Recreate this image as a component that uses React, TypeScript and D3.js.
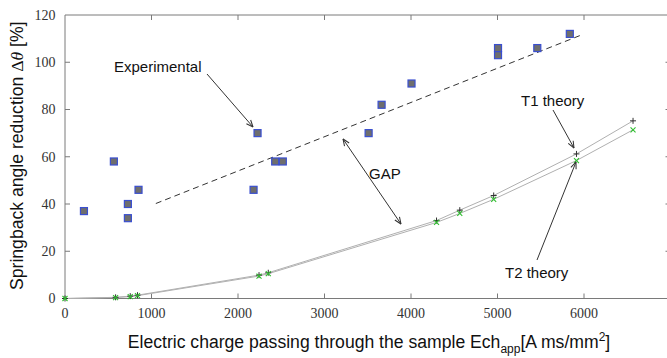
import React from "react";
import * as d3 from "d3";

const W = 667;
const H = 358;

// Experimental data (squares)
const expX = [219, 565, 727, 727, 850, 2180, 2226, 2430, 2518, 3510, 3660, 4006, 5006, 5006, 5460, 5836];
const expY = [37, 58, 40, 34, 46, 46, 70, 58, 58, 70, 82, 91, 106, 103, 106, 112];

// Linear trend of experimental data (dashed)
const fitX = [1050, 5960];
const fitY = [40.2, 111.4];

// Theory curves
const thX = [0, 585, 754, 838, 2243, 2350, 4295, 4564, 4956, 5913, 6567];
const t1Y = [0, 0.5, 1.0, 1.4, 9.9, 10.9, 33.0, 37.4, 43.6, 61.2, 75.2];
const t2Y = [0, 0.4, 0.8, 1.2, 9.5, 10.5, 32.2, 36.0, 42.0, 58.4, 71.4];

const xTicks = [0, 1000, 2000, 3000, 4000, 5000, 6000];
const yTicks = [0, 20, 40, 60, 80, 100, 120];

export default function App() {
  const x = d3.scaleLinear().domain([0, 7000]).range([65, 670.5]);
  const y = d3.scaleLinear().domain([0, 120]).range([298.5, 15]);
  const x0 = x(0), x1 = x(7000), y0 = y(0), y1 = y(120);

  const line = d3.line<[number, number]>().x((d) => x(d[0])).y((d) => y(d[1]));
  const t1 = line(thX.map((v, i) => [v, t1Y[i]]) as [number, number][]) || "";
  const t2 = line(thX.map((v, i) => [v, t2Y[i]]) as [number, number][]) || "";
  const fit = line(fitX.map((v, i) => [v, fitY[i]]) as [number, number][]) || "";

  const axisColor = "#7a7a7a";
  const serif = "'Liberation Serif', 'DejaVu Serif', serif";
  const sans = "'Liberation Sans', Arial, sans-serif";
  const arrowColor = "#333";

  return (
    <svg width={W} height={H} style={{ position: "absolute", left: 0, top: 0, background: "#fff" }}>
      <defs>
        <marker id="ah" viewBox="0 0 10 10" refX="9.5" refY="5" markerWidth="8" markerHeight="8" orient="auto-start-reverse" markerUnits="userSpaceOnUse">
          <path d="M1,1.5 L9.5,5 L1,8.5" fill="none" stroke={arrowColor} strokeWidth={1.3} />
        </marker>
      </defs>

      {/* frame */}
      <line x1={x0} y1={y0} x2={W} y2={y0} stroke={axisColor} strokeWidth={1} />
      <line x1={x0} y1={y1} x2={W} y2={y1} stroke={axisColor} strokeWidth={1} />
      <line x1={x0} y1={y0} x2={x0} y2={y1} stroke={axisColor} strokeWidth={1} />
      <line x1={x1} y1={y0} x2={x1} y2={y1} stroke={axisColor} strokeWidth={1} />

      {/* x ticks */}
      {xTicks.map((t) => (
        <g key={"xt" + t}>
          {t > 0 && <line x1={x(t)} x2={x(t)} y1={y0} y2={y0 - 5} stroke={axisColor} />}
          {t > 0 && <line x1={x(t)} x2={x(t)} y1={y1} y2={y1 + 5} stroke={axisColor} />}
          <text x={x(t)} y={y0 + 19.5} textAnchor="middle" fontFamily={serif} fontSize={14} fill="#333">
            {t}
          </text>
        </g>
      ))}
      {/* y ticks */}
      {yTicks.map((t) => (
        <g key={"yt" + t}>
          {t > 0 && t < 120 && <line x1={x0} x2={x0 + 5} y1={y(t)} y2={y(t)} stroke={axisColor} />}
          {t > 0 && t < 120 && <line x1={x1} x2={x1 - 5} y1={y(t)} y2={y(t)} stroke={axisColor} />}
          <text x={55.5} y={y(t) + 4.8} textAnchor="end" fontFamily={serif} fontSize={14} fill="#333">
            {t}
          </text>
        </g>
      ))}

      {/* theory curves */}
      <path d={t1} fill="none" stroke="#b0b0b0" strokeWidth={1} />
      <path d={t2} fill="none" stroke="#b0b0b0" strokeWidth={1} />
      {thX.map((v, i) => (
        <g key={"t1" + i} transform={`translate(${x(v)},${y(t1Y[i])})`}>
          <path d="M-3,0 H3 M0,-3 V3" stroke="#333" strokeWidth={1} />
        </g>
      ))}
      {thX.map((v, i) => (
        <g key={"t2" + i} transform={`translate(${x(v)},${y(t2Y[i])})`}>
          <path d="M-2.5,-2.5 L2.5,2.5 M-2.5,2.5 L2.5,-2.5" stroke="#2fbf2f" strokeWidth={1.1} />
        </g>
      ))}

      {/* trend */}
      <path d={fit} fill="none" stroke="#333" strokeWidth={1} strokeDasharray="6,4" />

      {/* experimental squares */}
      {expX.map((v, i) => (
        <rect key={"e" + i} x={x(v) - 3.5} y={y(expY[i]) - 3.5} width={7} height={7} fill="#6e6e6e" stroke="#3a4fd0" strokeWidth={1.2} />
      ))}

      {/* annotations */}
      <text x={114} y={71.5} fontFamily={sans} fontSize={15} fill="#111">Experimental</text>
      <line x1={207} y1={74} x2={253} y2={127} stroke={arrowColor} strokeWidth={1} markerEnd="url(#ah)" />

      <text x={521} y={105.5} fontFamily={sans} fontSize={15} fill="#111">T1 theory</text>
      <line x1={553} y1={110} x2={574} y2={148} stroke={arrowColor} strokeWidth={1} markerEnd="url(#ah)" />

      <text x={369} y={178.5} fontFamily={sans} fontSize={15} fill="#111">GAP</text>
      <line x1={343} y1={139} x2={401} y2={224} stroke={arrowColor} strokeWidth={1} markerEnd="url(#ah)" markerStart="url(#ah)" />

      <text x={505} y={277.5} fontFamily={sans} fontSize={15} fill="#111">T2 theory</text>
      <line x1={537} y1={260} x2={576} y2={162} stroke={arrowColor} strokeWidth={1} markerEnd="url(#ah)" />

      {/* axis labels */}
      <text x={369} y={347.5} textAnchor="middle" fontFamily={sans} fontSize={17.6} fill="#111">
        Electric charge passing through the sample Ech
        <tspan fontSize={12} dy={5.5}>app</tspan>
        <tspan dy={-5.5}>[A ms/mm</tspan>
        <tspan fontSize={12} dy={-7}>2</tspan>
        <tspan dy={7}>]</tspan>
      </text>
      <text transform={`translate(23,${(y0 + y1) / 2 - 1}) rotate(-90)`} textAnchor="middle" fontFamily={sans} fontSize={17.6} fill="#111">
        Springback angle reduction <tspan fontFamily={serif}>Δ</tspan>
        <tspan fontFamily={serif} fontStyle="italic">θ</tspan> [%]
      </text>
    </svg>
  );
}
